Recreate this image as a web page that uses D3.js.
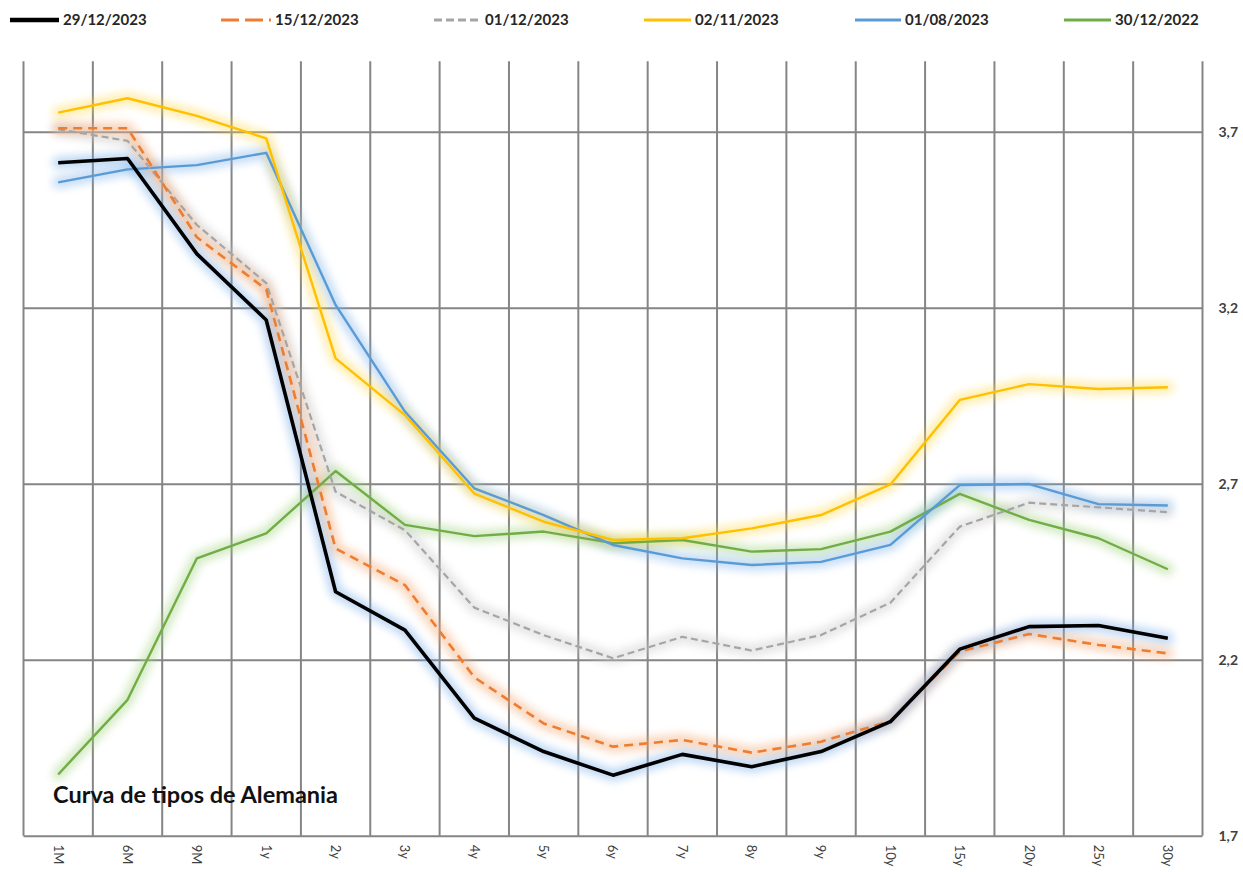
<!DOCTYPE html>
<html>
<head>
<meta charset="utf-8">
<script src="https://cdn.jsdelivr.net/npm/d3@7"></script>
<style>
  html, body { margin: 0; padding: 0; background: #ffffff; }
  svg { display: block; }
  text { font-family: Lato, "Open Sans", "DejaVu Sans", sans-serif; }
</style>
</head>
<body>
<svg id="chart" width="1243" height="872"></svg>
<script>
// Tenors along the curve
const categories = ["1M","6M","9M","1y","2y","3y","4y","5y","6y","7y","8y","9y","10y","15y","20y","25y","30y"];

// German government yield curves (%), one array per observation date
const curve_29_12_2023 = [3.612, 3.624, 3.353, 3.165, 2.393, 2.284, 2.034, 1.939, 1.872, 1.931, 1.896, 1.939, 2.024, 2.230, 2.294, 2.297, 2.261];
const curve_15_12_2023 = [3.710, 3.710, 3.400, 3.252, 2.516, 2.412, 2.150, 2.019, 1.953, 1.972, 1.936, 1.967, 2.026, 2.223, 2.273, 2.242, 2.218];
const curve_01_12_2023 = [3.707, 3.674, 3.435, 3.270, 2.677, 2.568, 2.348, 2.270, 2.204, 2.265, 2.226, 2.270, 2.362, 2.578, 2.646, 2.633, 2.619];
const curve_02_11_2023 = [3.754, 3.795, 3.745, 3.681, 3.056, 2.895, 2.672, 2.592, 2.540, 2.545, 2.573, 2.611, 2.698, 2.938, 2.983, 2.969, 2.974];
const curve_01_08_2023 = [3.556, 3.593, 3.605, 3.640, 3.208, 2.905, 2.687, 2.611, 2.526, 2.488, 2.469, 2.478, 2.526, 2.696, 2.699, 2.642, 2.638];
const curve_30_12_2022 = [1.874, 2.086, 2.488, 2.559, 2.736, 2.583, 2.551, 2.564, 2.531, 2.540, 2.507, 2.514, 2.564, 2.671, 2.597, 2.545, 2.457];

const seriesNames = ["29/12/2023","15/12/2023","01/12/2023","02/11/2023","01/08/2023","30/12/2022"];
const seriesValues = [curve_29_12_2023, curve_15_12_2023, curve_01_12_2023, curve_02_11_2023, curve_01_08_2023, curve_30_12_2022];

// Value axis
const yTicks = [1.7, 2.2, 2.7, 3.2, 3.7];
const yMin = 1.7, yMax = 3.9;

const chartTitle = "Curva de tipos de Alemania";

// Line styling per series
const styles = [
  { color: "#000000", width: 3.6, dash: null,  glow: "#6fa8e8", legendDash: null },
  { color: "#ED7D31", width: 2.6, dash: "9,6", glow: "#f4a46c", legendDash: "18,6" },
  { color: "#A5A5A5", width: 2.2, dash: "7,4", glow: "#c8c8c8", legendDash: "8,4" },
  { color: "#FFC000", width: 2.4, dash: null,  glow: "#ffd84a", legendDash: null },
  { color: "#5B9BD5", width: 2.4, dash: null,  glow: "#7fb4ec", legendDash: null },
  { color: "#70AD47", width: 2.4, dash: null,  glow: "#9fd27a", legendDash: null }
];

// Legend layout (line sample start/end and label start)
const legendLayout = [
  { x1: 10,  x2: 59,  tx: 63 },
  { x1: 221, x2: 271, tx: 275 },
  { x1: 434, x2: 481, tx: 485 },
  { x1: 644, x2: 691, tx: 695 },
  { x1: 855, x2: 901, tx: 905 },
  { x1: 1064, x2: 1111, tx: 1115 }
];

const svg = d3.select("#chart");
const plotLeft = 23.5, plotRight = 1202.5, plotBottom = 835.7, plotTop = 61.3;

const x = d3.scaleBand().domain(categories).range([plotLeft, plotRight]).paddingInner(0).paddingOuter(0);
const y = d3.scaleLinear().domain([yMin, yMax]).range([plotBottom, plotTop]);
const cx = c => x(c) + x.bandwidth() / 2;

// Glow filter
const defs = svg.append("defs");
defs.append("filter").attr("id", "glow")
  .attr("x", "-10%").attr("y", "-10%").attr("width", "120%").attr("height", "120%")
  .append("feGaussianBlur").attr("stdDeviation", 4.5);

const gridColor = "#858585";

// Horizontal gridlines and right-hand value labels
const yGrid = svg.append("g").attr("transform", `translate(${plotRight},0)`)
  .call(d3.axisLeft(y).tickValues(yTicks).tickSize(plotRight - plotLeft).tickFormat(""));
yGrid.select(".domain").remove();
yGrid.selectAll("line").attr("stroke", gridColor).attr("stroke-width", 2);

const yAxis = svg.append("g").attr("transform", `translate(${plotRight},0)`)
  .call(d3.axisRight(y).tickValues(yTicks).tickSize(0).tickPadding(16)
    .tickFormat(d => d3.format(".1f")(d).replace(".", ",")));
yAxis.select(".domain").remove();
yAxis.selectAll("text").attr("fill", "#404040").attr("font-size", 14).attr("font-weight", "bold");

// Vertical gridlines at category boundaries
const bounds = categories.map(c => x(c)).concat([plotRight]);
svg.append("g").selectAll("line").data(bounds).join("line")
  .attr("x1", d => d).attr("x2", d => d)
  .attr("y1", y(yMax)).attr("y2", plotBottom)
  .attr("stroke", gridColor).attr("stroke-width", 2);

// Category axis with vertical labels
const xAxis = svg.append("g").attr("transform", `translate(0,${plotBottom})`)
  .call(d3.axisBottom(x).tickSize(0));
xAxis.select(".domain").remove();
xAxis.selectAll("text")
  .attr("transform", "rotate(90)")
  .attr("x", 9).attr("y", 0).attr("dy", "0.35em")
  .attr("text-anchor", "start")
  .attr("fill", "#404040").attr("font-size", 13);

// Curves
const line = d3.line().x((d, i) => cx(categories[i])).y(d => y(d));
const order = [5, 4, 3, 2, 1, 0];

const glowG = svg.append("g");
order.forEach(k => {
  glowG.append("path").datum(seriesValues[k])
    .attr("d", line).attr("fill", "none")
    .attr("stroke", styles[k].glow).attr("stroke-width", 12)
    .attr("stroke-linejoin", "round").attr("stroke-linecap", "round")
    .attr("opacity", 0.45).attr("filter", "url(#glow)");
});

const linesG = svg.append("g");
order.forEach(k => {
  linesG.append("path").datum(seriesValues[k])
    .attr("d", line).attr("fill", "none")
    .attr("stroke", styles[k].color).attr("stroke-width", styles[k].width)
    .attr("stroke-dasharray", styles[k].dash)
    .attr("stroke-linejoin", "round");
});

// Title inside the plot
svg.append("text").attr("x", 53).attr("y", 803)
  .attr("font-size", 23.5).attr("font-weight", "bold").attr("fill", "#111")
  .text(chartTitle);

// Legend
const legend = svg.append("g");
seriesNames.forEach((name, k) => {
  const L = legendLayout[k];
  legend.append("line")
    .attr("x1", L.x1).attr("x2", L.x2).attr("y1", 20).attr("y2", 20)
    .attr("stroke", styles[k].color)
    .attr("stroke-width", k === 0 ? 4.5 : 3)
    .attr("stroke-dasharray", styles[k].legendDash);
  legend.append("text").attr("x", L.tx).attr("y", 20).attr("dy", "0.35em")
    .attr("font-size", 15).attr("font-weight", "bold").attr("fill", "#262626")
    .text(name);
});
</script>
</body>
</html>
